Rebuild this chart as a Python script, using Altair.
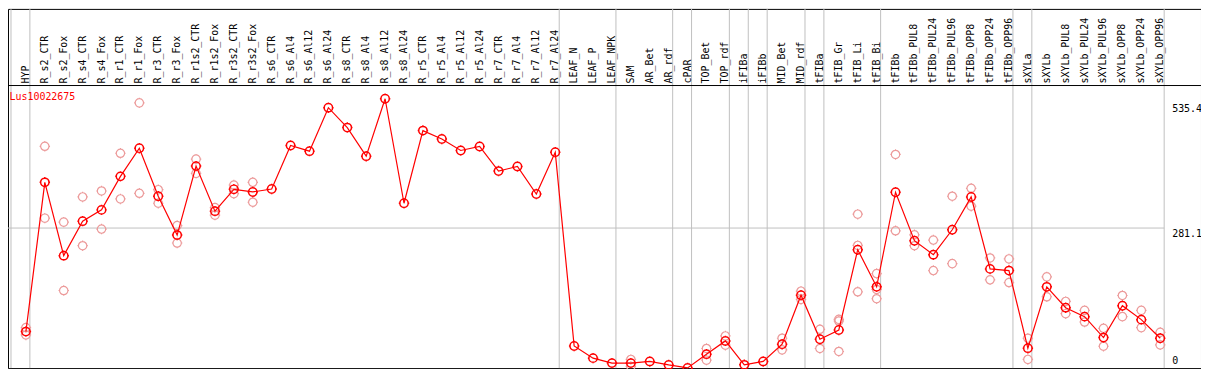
import altair as alt
import pandas as pd

gene = "Lus10022675"

categories = [
    "HYP", "R_s2_CTR", "R_s2_Fox", "R_s4_CTR", "R_s4_Fox", "R_r1_CTR", "R_r1_Fox",
    "R_r3_CTR", "R_r3_Fox", "R_r1s2_CTR", "R_r1s2_Fox", "R_r3s2_CTR", "R_r3s2_Fox",
    "R_s6_CTR", "R_s6_Al4", "R_s6_Al12", "R_s6_Al24", "R_s8_CTR", "R_s8_Al4",
    "R_s8_Al12", "R_s8_Al24", "R_r5_CTR", "R_r5_Al4", "R_r5_Al12", "R_r5_Al24",
    "R_r7_CTR", "R_r7_Al4", "R_r7_Al12", "R_r7_Al24", "LEAF_N", "LEAF_P", "LEAF_NPK",
    "SAM", "AR_Bet", "AR_rdf", "cPAR", "TOP_Bet", "TOP_rdf", "iFIBa", "iFIBb",
    "MID_Bet", "MID_rdf", "tFIBa", "tFIB_Gr", "tFIB_Li", "tFIB_Bi", "tFIBb",
    "tFIBb_PUL8", "tFIBb_PUL24", "tFIBb_PUL96", "tFIBb_OPP8", "tFIBb_OPP24",
    "tFIBb_OPP96", "sXYLa", "sXYLb", "sXYLb_PUL8", "sXYLb_PUL24", "sXYLb_PUL96",
    "sXYLb_OPP8", "sXYLb_OPP24", "sXYLb_OPP96",
]

means = [
    70.8, 374.0, 225.0, 295.1, 318.0, 386.1, 443.3, 345.7, 266.8, 406.9, 315.4, 359.8, 354.4,
    360.4, 448.8, 437.3, 525.6, 485.2, 427.1, 543.8, 331.5, 479.1, 462.1, 438.7, 446.8,
    396.8, 406.3, 350.3, 435.2, 41.4, 16.8, 6.7,
    6.7, 10.1, 3.0, -3.0, 24.9, 51.8, 3.2, 10.1,
    45.1, 144.7, 55.2, 74.0, 237.1, 161.7, 353.8,
    255.3, 227.0, 277.6, 344.3, 198.1,
    194.7, 37.0, 161.7, 119.3, 101.1, 58.6,
    123.3, 95.0, 57.2,
]

N = None
rep1 = [
    78.8, 447.2, 293.1, 344.3, 356.4, 433.0, 535.4, 359.0, 286.2, 421.1, 322.6, 368.5, 374.0,
    N, N, N, N, N, N, N, N, N, N, N, N, N, N, N, N, N, N, N,
    14.2, N, N, N, 36.4, 61.9, N, N,
    57.2, 152.8, 75.4, 95.6, 309.3, 188.6, 430.6,
    267.4, 256.7, 345.7, 361.8, 220.3,
    218.3, 57.2, 181.9, 132.0, 113.8, 77.4,
    144.1, 113.8, 69.3,
]
rep2 = [
    63.9, 301.2, 154.2, 245.2, 279.0, 340.2, 351.7, 331.5, 250.7, 392.2, 307.3, 350.9, 333.5,
    N, N, N, N, N, N, N, N, N, N, N, N, N, N, N, N, N, N, N,
    0.0, N, N, N, 12.7, 43.1, N, N,
    33.6, 136.0, 36.4, 30.3, 245.8, 156.3, 275.5,
    245.2, 194.7, 208.8, 325.5, 175.9,
    170.4, 14.2, 141.5, 107.1, 90.2, 41.0,
    101.1, 78.8, 43.7,
]
rep3 = [
    N, N, N, N, N, N, N, N, N, N, N, N, N,
    N, N, N, N, N, N, N, N, N, N, N, N, N, N, N, N, N, N, N,
    N, N, N, N, N, N, N, N,
    N, N, N, 92.2, 151.6, 137.5, N,
    N, N, N, N, N,
    N, N, N, N, N, N,
    N, N, N,
]

# group separators: drawn after these category indices (-1 = before the first)
separators_after = [-1, 0, 28, 31, 34, 35, 37, 38, 39, 41, 42, 45, 52, 53, 60]
y_labels = [535.4, 281.1, 0]
h_grid = [281.1]

W, H = 1199, 361
X_DOMAIN = [-18 / 19, 1181 / 19]
Y_DOMAIN = [-3.44, 726.3]

mean_df = pd.DataFrame({"idx": list(range(len(categories))), "cat": categories, "value": means})
rows = []
for reps in (rep1, rep2, rep3):
    for i, v in enumerate(reps):
        if v is not None:
            rows.append({"idx": i, "value": v})
rep_df = pd.DataFrame(rows)
sep_df = pd.DataFrame({"pos": [s + 4 / 19 for s in separators_after]})
hg_df = pd.DataFrame({"value": h_grid})
lab_top_df = pd.DataFrame({"value": [v for v in y_labels if v != 0],
                           "label": [str(v) for v in y_labels if v != 0]})
lab_zero_df = pd.DataFrame({"value": [0], "label": ["0"]})

xs = alt.Scale(domain=X_DOMAIN, nice=False, zero=False)
ys = alt.Scale(domain=Y_DOMAIN, nice=False, zero=False)

r, k = 0.8, 0.4418
MARKER = (
    f"M{r},0C{r},{k} {k},{r} 0,{r}C-{k},{r} -{r},{k} -{r},0"
    f"C-{r},-{k} -{k},-{r} 0,-{r}C{k},-{r} {r},-{k} {r},0Z"
    f"M0,-1L0,-{r}M0,{r}L0,1M-1,0L-{r},0M{r},0L1,0"
)
FONT = "DejaVu Sans Mono"

vgrid = alt.Chart(sep_df).mark_rule(color="#c0c0c0", strokeWidth=1).encode(
    x=alt.X("pos:Q", scale=xs, axis=None),
    y=alt.value(0), y2=alt.value(H),
)
hgrid = alt.Chart(hg_df).mark_rule(color="#c0c0c0", strokeWidth=1).encode(
    y=alt.Y("value:Q", scale=ys, axis=None),
    x=alt.value(0), x2=alt.value(1162),
)
header_sep = alt.Chart(hg_df).mark_rule(color="black", strokeWidth=1).encode(
    y=alt.value(77), x=alt.value(0), x2=alt.value(W),
)
header = alt.Chart(mean_df).mark_text(
    angle=270, align="left", baseline="middle", font=FONT, fontSize=10, color="black"
).encode(
    x=alt.X("idx:Q", scale=xs, axis=None),
    y=alt.value(75),
    text="cat:N",
)
title = alt.Chart(hg_df).mark_text(
    align="left", baseline="top", font=FONT, fontSize=10, color="#ff0000", text=gene
).encode(x=alt.value(1.5), y=alt.value(84))

reps_layer = alt.Chart(rep_df).mark_point(
    shape=MARKER, size=110, filled=False, color="#ec9a9a", strokeWidth=1.2, opacity=1
).encode(
    x=alt.X("idx:Q", scale=xs, axis=None),
    y=alt.Y("value:Q", scale=ys, axis=None),
)
line = alt.Chart(mean_df).mark_line(color="#ff0000", strokeWidth=1.2).encode(
    x=alt.X("idx:Q", scale=xs, axis=None),
    y=alt.Y("value:Q", scale=ys, axis=None),
    order="idx:Q",
)
mean_pts = alt.Chart(mean_df).mark_point(
    shape=MARKER, size=110, filled=False, color="#ff0000", strokeWidth=1.5, opacity=1
).encode(
    x=alt.X("idx:Q", scale=xs, axis=None),
    y=alt.Y("value:Q", scale=ys, axis=None),
)
ylab_top = alt.Chart(lab_top_df).mark_text(
    align="left", baseline="top", font=FONT, fontSize=10, color="black", dy=1
).encode(
    x=alt.value(1170),
    y=alt.Y("value:Q", scale=ys, axis=None),
    text="label:N",
)
ylab_zero = alt.Chart(lab_zero_df).mark_text(
    align="left", baseline="alphabetic", font=FONT, fontSize=10, color="black", dy=-2
).encode(
    x=alt.value(1170),
    y=alt.Y("value:Q", scale=ys, axis=None),
    text="label:N",
)

chart = alt.layer(
    vgrid, hgrid, header_sep, header, title, reps_layer, line, mean_pts, ylab_top, ylab_zero
).properties(
    width=W, height=H, autosize=alt.AutoSizeParams(type="none"), padding=0
).configure_view(stroke="black", strokeWidth=1)

chart.save("out.html", embed_options={"renderer": "svg", "actions": False})
